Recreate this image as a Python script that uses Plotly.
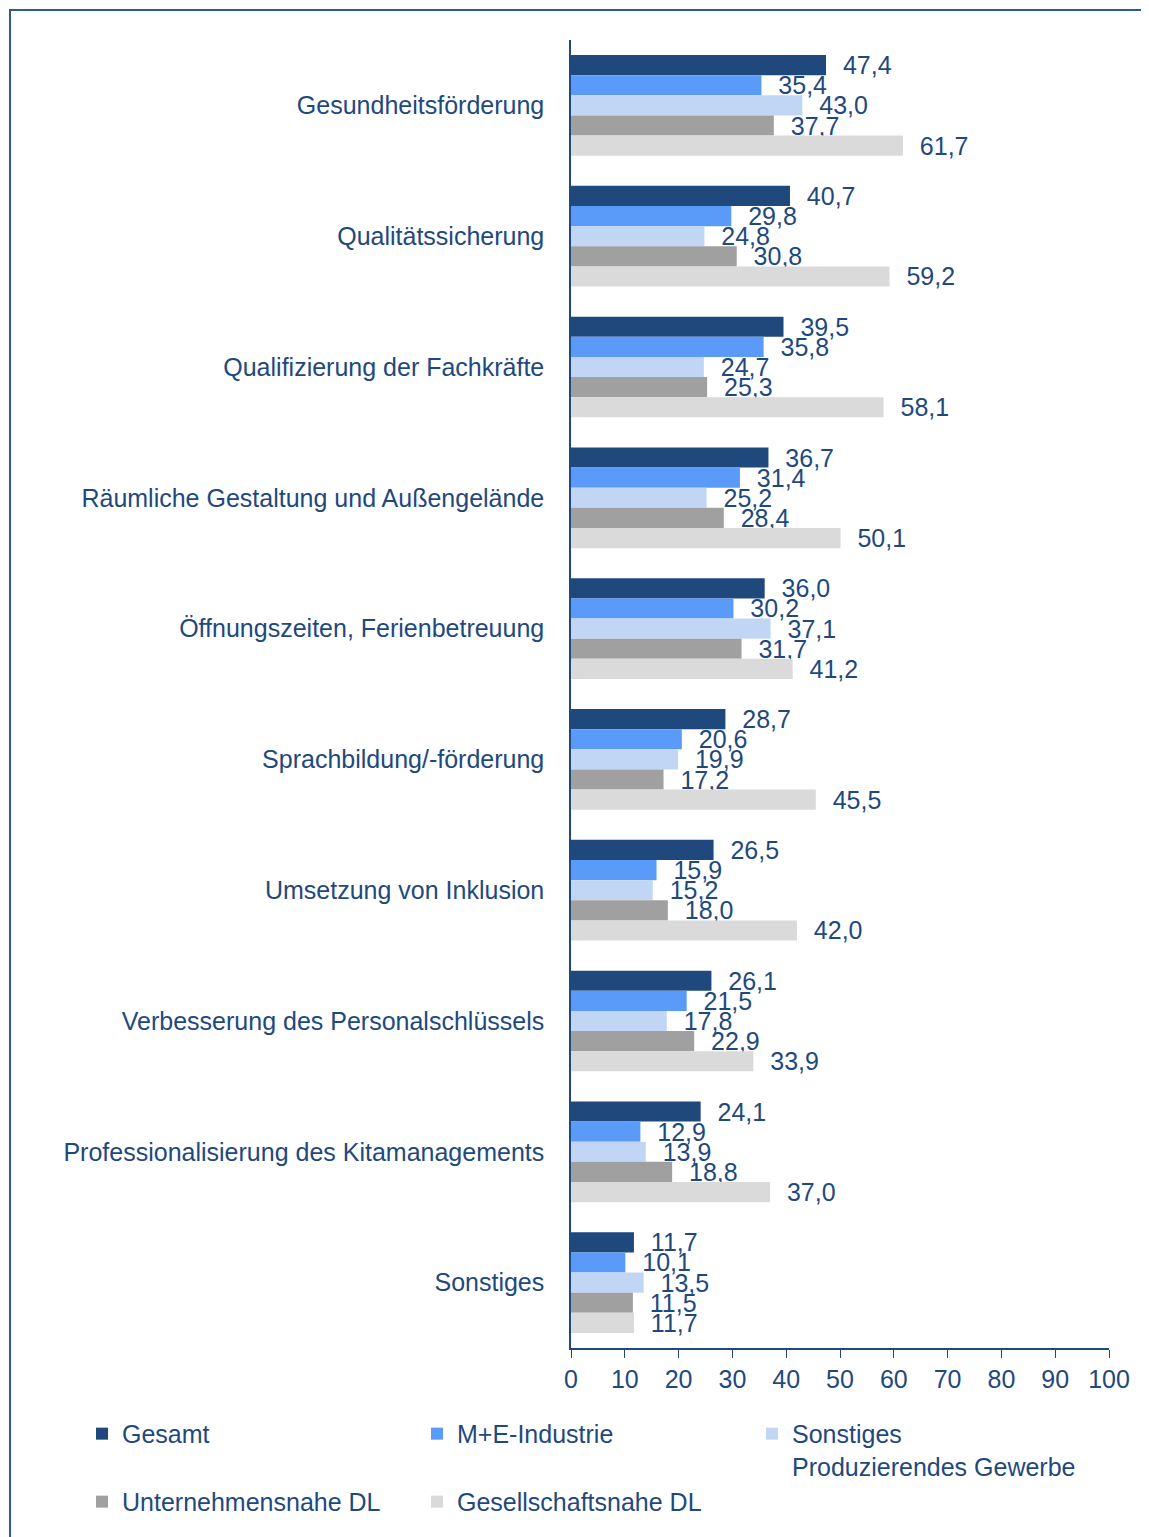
import plotly.graph_objects as go

categories = [
    "Gesundheitsförderung",
    "Qualitätssicherung",
    "Qualifizierung der Fachkräfte",
    "Räumliche Gestaltung und Außengelände",
    "Öffnungszeiten, Ferienbetreuung",
    "Sprachbildung/-förderung",
    "Umsetzung von Inklusion",
    "Verbesserung des Personalschlüssels",
    "Professionalisierung des Kitamanagements",
    "Sonstiges",
]

gesamt = [47.4, 40.7, 39.5, 36.7, 36.0, 28.7, 26.5, 26.1, 24.1, 11.7]
me_industrie = [35.4, 29.8, 35.8, 31.4, 30.2, 20.6, 15.9, 21.5, 12.9, 10.1]
sonst_prod = [43.0, 24.8, 24.7, 25.2, 37.1, 19.9, 15.2, 17.8, 13.9, 13.5]
unternehmensnahe = [37.7, 30.8, 25.3, 28.4, 31.7, 17.2, 18.0, 22.9, 18.8, 11.5]
gesellschaftsnahe = [61.7, 59.2, 58.1, 50.1, 41.2, 45.5, 42.0, 33.9, 37.0, 11.7]

series = [
    ("Gesamt", gesamt, "#1F497D"),
    ("M+E-Industrie", me_industrie, "#5A9AF8"),
    ("Sonstiges<br>Produzierendes Gewerbe", sonst_prod, "#C1D6F5"),
    ("Unternehmensnahe DL", unternehmensnahe, "#A0A0A0"),
    ("Gesellschaftsnahe DL", gesellschaftsnahe, "#DADADA"),
]

TEXT = "#1F497D"
FONT = "Liberation Sans, Arial, sans-serif"
# the page body has an 8px margin, so the figure is 8px smaller than the window
W, H = 1141, 1529
M_L, M_R, M_T, M_B = 563, 40, 32, 187
pw = W - M_L - M_R
ph = H - M_T - M_B

fig = go.Figure()
for name, vals, color in series:
    fig.add_trace(go.Bar(
        y=categories,
        x=vals,
        name=name,
        orientation="h",
        marker=dict(color=color, line=dict(width=0)),
        texttemplate="\u00a0\u00a0%{x:.1f}",
        textposition="outside",
        constraintext="none",
        cliponaxis=False,
        textfont=dict(color=TEXT, size=25, family=FONT),
        hovertemplate=f"%{{y}}: %{{x:.1f}}<extra>{name}</extra>",
    ))

# frame around the chart (top and left edge visible)
fig.add_shape(type="rect", xref="paper", yref="paper",
              x0=(2 - M_L) / pw, x1=(W + 20 - M_L) / pw,
              y0=-(M_B + 20) / ph, y1=1 + (M_T - 2) / ph,
              line=dict(color="#2F5A8C", width=2), layer="below")

fig.update_layout(
    width=W,
    height=H,
    margin=dict(l=M_L, r=M_R, t=M_T, b=M_B),
    paper_bgcolor="white",
    plot_bgcolor="white",
    barmode="group",
    bargap=0.23,
    bargroupgap=0,
    separators=",.",
    font=dict(family=FONT, color=TEXT, size=25),
    legend=dict(
        orientation="h",
        x=(74 - M_L) / pw, y=-(1405 - (H - M_B)) / ph,
        xanchor="left", yanchor="top",
        entrywidth=290, entrywidthmode="pixels",
        valign="top",
        traceorder="normal",
        font=dict(size=25, color=TEXT, family=FONT),
        itemclick=False,
    ),
    xaxis=dict(
        range=[0, 100],
        tickvals=list(range(0, 101, 10)),
        showgrid=False,
        zeroline=False,
        showline=True,
        linecolor=TEXT,
        linewidth=1.5,
        ticks="outside",
        ticklen=8,
        tickcolor=TEXT,
        tickfont=dict(size=25, color=TEXT, family=FONT),
    ),
    yaxis=dict(
        autorange="reversed",
        showgrid=False,
        zeroline=False,
        showline=True,
        linecolor=TEXT,
        linewidth=1.5,
        ticks="",
        ticklabelstandoff=20,
        tickfont=dict(size=25, color=TEXT, family=FONT),
    ),
)

fig.write_html("out.html")
